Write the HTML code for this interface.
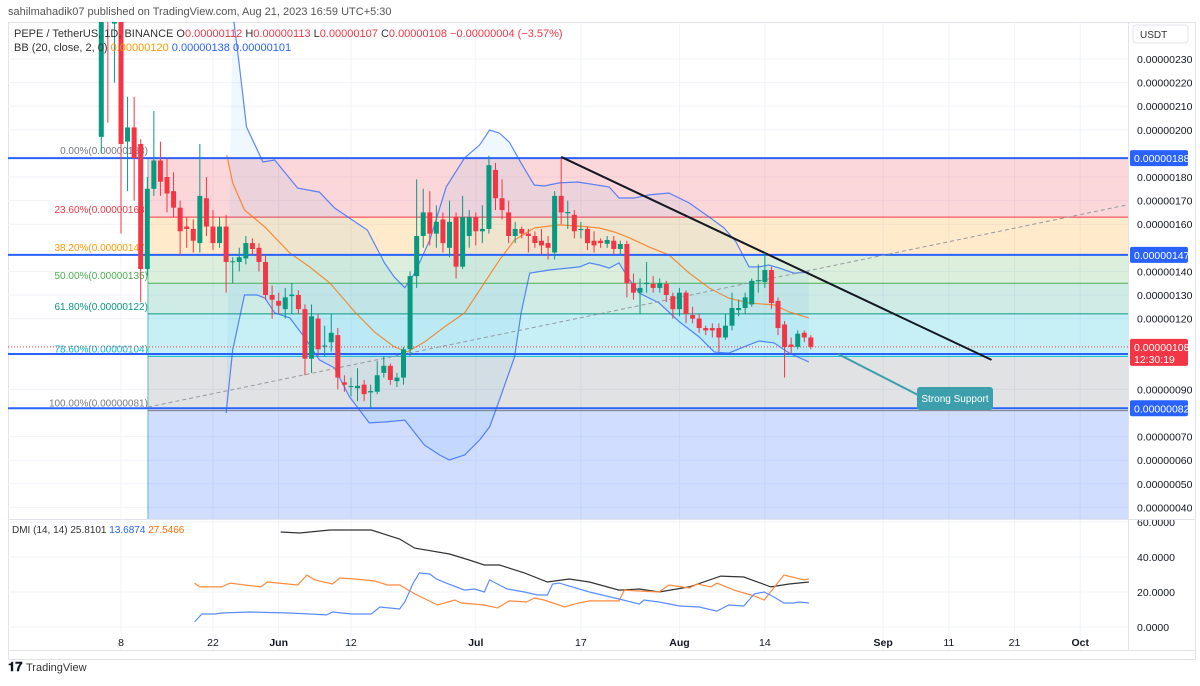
<!DOCTYPE html>
<html><head><meta charset="utf-8"><style>
body{margin:0;background:#fff;font-family:"Liberation Sans",sans-serif;}
svg text{font-family:"Liberation Sans",sans-serif;}
</style></head><body>
<svg id="c" width="1200" height="681" xmlns="http://www.w3.org/2000/svg">
<defs>
<clipPath id="mainClip"><rect x="8" y="22" width="1120" height="497"/></clipPath>
<clipPath id="dmiClip"><rect x="8" y="520" width="1120" height="130"/></clipPath>
</defs>
<text x="8" y="15" font-size="11" fill="#555">sahilmahadik07 published on TradingView.com, Aug 21, 2023 16:59 UTC+5:30</text>
<rect x="8.5" y="22.5" width="1187" height="637" fill="none" stroke="#e0e3eb"/>
<g id="grid"></g>
<g id="fib" clip-path="url(#mainClip)"></g>
<g id="bb" clip-path="url(#mainClip)"></g>
<g id="lines" clip-path="url(#mainClip)"></g>
<g id="candles" clip-path="url(#mainClip)"></g>
<g id="dmi" clip-path="url(#dmiClip)"></g>
<g id="axes"></g>
<line x1="8" y1="519.5" x2="1196" y2="519.5" stroke="#e0e3eb"/>
<line x1="1128.5" y1="22" x2="1128.5" y2="650" stroke="#e0e3eb"/>
<line x1="8" y1="650.5" x2="1196" y2="650.5" stroke="#e0e3eb"/>
<text x="14" y="37" font-size="11"><tspan fill="#333">PEPE / TetherUS, 1D, BINANCE  O</tspan><tspan fill="#f23645">0.00000112  </tspan><tspan fill="#333">H</tspan><tspan fill="#f23645">0.00000113  </tspan><tspan fill="#333">L</tspan><tspan fill="#f23645">0.00000107  </tspan><tspan fill="#333">C</tspan><tspan fill="#f23645">0.00000108  −0.00000004 (−3.57%)</tspan></text>
<text x="14" y="51" font-size="11"><tspan fill="#333">BB (20, close, 2, 0)  </tspan><tspan fill="#ff9800">0.00000120  </tspan><tspan fill="#2962ff">0.00000138  0.00000101</tspan></text>
<text x="12" y="533" font-size="10"><tspan fill="#333">DMI (14, 14)  25.8101  </tspan><tspan fill="#2962ff">13.6874  </tspan><tspan fill="#ff6d00">27.5466</tspan></text>
<rect x="1133" y="25" width="55" height="18" rx="3" fill="#fff" stroke="#e0e3eb"/>
<text x="1140" y="38" font-size="10" fill="#333">USDT</text>
<g><text x="8" y="671" font-size="13" font-weight="bold" fill="#131722">𝟏𝟕</text><text x="26" y="671" font-size="11" fill="#333">TradingView</text></g>
</svg>
<script>
const NS="http://www.w3.org/2000/svg";
// ---- data ----
const opens=[197,262,245,262,195,201,194,141,175,187,180,174,167,159,158,152,171,159,152,159,144,144,145.5,152,150,144,130,127.5,124,129.5,130,124,103,120,108.2,110,113,93,91,90.5,92,88.7,89,97,100,93.5,95,107,138,155,165,156,162,150,163,142,155,163,157,158,183,171,165,155,158,156,155,153,152,148,172,164.6,164,157.5,158,153,153,151.7,153,149.5,151.6,135,131,134.6,134.7,133,134.7,129.5,124,131,121.5,120,116,116,116,112,117,123.6,124.5,126,135.8,135.5,140.6,127.5,117.5,109,108,114,112];
const highs=[275,268,275,270,214,214,196,180,208,195,188,182,170,163,162,194,180,166,163,164,146,150,155,154,152,147,134,131,133,135,132,126,126,122,117,122,116,96,95,99,94,92,102,104,101,97,108,140,179,175,174,168,165,170,165,172,166,165,168,189,186,179,170,161,159,158,157,158,155,174,188,170,166,161,159,157,154,155,155,153,153,139,137,144,138,137,136,131,133,132,125,122,117,118,118,122,131,128,131,137,143,148,142,129,119,112,115,115,113];
const lows=[190,203,220,156,174,170,127,138,172,172,165,163,147,150,148,148,155,149,150,131,135,140,143,147,140,128,120,122,120,122,122,96,97,104,104,106,90,89,87,85,85,82,88,95,92,91,92,104,133,150,151,150,148,146,137,141,150,151,152,156,166,162,152,152,154,148,150,147,145,145,160,158,154,154,149,148,150,150,147,147,129,128,122,131,131,131,127,120,121,118,118,114,113,112,106,111,115,121,122,125,131,133,124,113,95,105,107,110,107];
const closes=[262,255,250,194,201,188,141,175,187,178,173,167,157,158,153,172,159,152,159,144,144.3,146,152,149.5,144,130,128,125.5,129,130.2,124,103,121,107,108.6,114,95,92,91.4,91.5,88,89.3,96,100,94,95,107,138,155,165,156,161,152,161,142,163,163,157,158,185,171,166,155,158,156,155,152,151,150,172,165,165.2,157,158,152,151,152,153.3,149.5,151.6,135,131,133,135.2,133,135,130,124,131,122,120,116,115,115,112,117,124.5,124.5,129,136,136.3,140.6,126.6,116,108,108,113.6,112,108];
const firstDay=-3; // days relative to May 8
const bbUpperDay=[17,18.1,19.1,21.6,23.4,26.9,30.2,32.5,34.8,37.5,40.1,41.6,43.2,44.7,47,49.5,52.3,54.6,56.1,57.6,59.1,60.9,62.9,64.4,66.7,69.5,74.3,75.8,78.1,80.4,83.4,86.5,89.5,91.8,93.6,95.6,97.1,98.6,100.2,102.4,104.7];
const bbUpperVal=[250,225.3,201.2,186.4,187.2,175.3,173.6,166.9,162.6,157.5,143.6,137.6,133.1,139.3,153.3,175.8,188.1,193.6,199.9,198.6,194.8,185.9,176.6,176.2,177.5,177.9,175.8,171.1,171.1,172.4,173.2,169,163.1,158.4,152.5,141.9,141.9,142.7,141.4,139.3,139.7];
const bbMidDay=[16.1,17,18.8,21.9,25.7,28.7,31.8,35.6,38.6,41.6,43.6,46.2,49.2,52.3,55.3,57.6,59.9,62.9,66.7,69.8,72.8,75.1,77.4,80.4,83.4,86.5,89.5,92.5,95.6,99.4,101.7,104.7];
const bbMidVal=[189.3,177.5,166,158.8,147.8,141.9,135.1,122.8,114.3,108,105.9,110.1,116.4,122.4,135.1,144.8,153.3,158.4,159.7,159.2,158.4,156.7,154.2,150.3,147,139.3,133,128.7,126.6,125.8,122.8,120.3];
const bbLowerDay=[16,17,18.8,20.7,21.9,23.4,25.7,28,30.2,32.5,34.8,37.8,40.1,43.2,46.2,48.5,50,52.3,54.6,56.1,57.6,59.9,60.9,62.2,65.2,69.8,71.3,72.8,74.3,75.8,77.4,78.9,81.9,85,88,90.3,92.5,94.8,97.1,99.4,101.7,104.7];
const bbLowerVal=[80,106.7,130,130,128.7,122.4,120.3,111.8,102.5,99.1,86.8,75.8,76.2,77,66.4,62.2,60.1,62.2,68.6,74.1,85.5,103.7,122.4,139.3,140.6,141.9,143.6,142.7,141.4,143.6,136.4,130.8,126.6,118.6,112.2,105.8,105.4,108,110.5,109.7,105.4,101.6];
const adxDay=[24.3,27.2,31.8,38.1,42.4,44.7,50,53,55.3,57.6,61.4,64.9,68.2,71.3,75.8,78.9,81.9,86.5,91.3,94.8,98.9,101.7,104.7];
const adxVal=[54.3,53.7,55.4,55.4,50.3,45.1,41.7,38.3,35.4,35.4,30.9,25.7,27.4,25.7,21.1,21.7,20,22.9,29.1,28.6,22.9,24.6,25.7];
const diMinusDay=[11.2,12,15.3,16.6,21.3,22.3,26.9,28.3,29.5,32.2,33.3,35.6,38.6,40.6,42.4,44.7,48.2,50.8,51.8,53.8,55.3,57.3,59.1,61.7,62.9,64.4,67.5,69,71.3,75.8,76.6,78.9,81.9,83.4,86.5,87.7,89.8,90.7,93.3,96.4,97.9,100.9,104,104.7];
const diMinusVal=[25.1,22.9,22.9,25.1,22.9,25.7,24,29.7,26.9,24.6,28,27.4,26.3,24,24,18.9,12.6,15.4,13.7,13.1,12.6,10.9,14.9,14.3,16.6,15.4,11.4,13.1,14.9,14.9,21.1,20.6,20,24,22.3,24.6,22.9,25.1,21.1,17.7,15.4,29.7,26.9,27.4];
const diPlusDay=[11.2,12.3,14.3,15.3,19.6,25.7,31.3,32.2,35.1,38.1,39.4,42.4,43.2,44.4,45.4,47,48,49.5,52.3,53.8,55.3,56.1,57.6,58.8,61.4,63.4,64.9,65.7,66.7,71.3,75.8,78.9,79.6,81.9,85,88,90.7,92.5,94.8,96.4,97.9,99.4,100.9,102.4,103.2,104.7];
const diPlusVal=[2.9,7.4,7.4,8,8.6,8,6.9,8.6,7.4,7.4,11.4,10.3,14.3,24.6,30.9,30.3,27.4,25.1,21.1,21.7,20,26.9,24,21.7,20,18.3,18.3,24.6,25.1,20,16,13.1,15.4,14.3,12,11.4,9.1,12.6,12,18.9,20,17.1,13.7,13.7,14.3,13.7];
const priceTicks=[230,220,210,200,180,170,160,140,130,120,90,70,60,50,40];
const dmiTicks=[60,40,20,0];
const dateLabels=["8","22","Jun","12","Jul","17","Aug","14","Sep","11","21","Oct"];
const dateDays=[0,14,24,35,54,70,85,98,116,126,136,146];
const fibPct=["0.00%","23.60%","38.20%","50.00%","61.80%","78.60%","100.00%"];
const fibVal=[188,163,147,135,122,104,81];
const fibColors=["#787b86","#f23645","#ff9800","#4caf50","#089981","#00bcd4","#787b86"];
const fibFills=["rgba(242,54,69,0.2)","rgba(255,152,0,0.2)","rgba(76,175,80,0.2)","rgba(8,153,129,0.2)","rgba(0,188,212,0.22)","rgba(120,123,134,0.22)","rgba(41,98,255,0.22)"];
const levelVals=[188,147,105,82];
const trendDay=[67,132.5], trendVal=[188.5,102.5];
const dashDay=[4.1,153], dashVal=[82.5,168.1];
const lastClose=108;
// ---- scales ----
const X=d=>121+6.57*d;
const Y=p=>59+(230-p)*2.36;
const DY=v=>627-v*1.75;
function mk(parent,tag,attrs){const e=document.createElementNS(NS,tag);for(const k in attrs)e.setAttribute(k,attrs[k]);document.getElementById(parent).appendChild(e);return e;}
function fmt(p){return "0.00000"+String(Math.round(p)).padStart(3,"0");}
// grid
dateDays.forEach((d,i)=>{const e=mk("grid","line",{x1:X(d),x2:X(d),y1:22,y2:650,stroke:"#f0f3fa"});

});
priceTicks.forEach(p=>{const e=mk("grid","line",{x1:8,x2:1128,y1:Y(p),y2:Y(p),stroke:"#f0f3fa"});

});
dmiTicks.forEach(v=>{const e=mk("grid","line",{x1:8,x2:1128,y1:DY(v),y2:DY(v),stroke:"#f0f3fa"});

});
// fib fills
const fx0=X(4.1);
for(let i=0;i<fibVal.length;i++){
 const top=Y(fibVal[i]); const bot=i<fibVal.length-1?Y(fibVal[i+1]):519;
 const r=mk("fib","rect",{x:fx0,y:top,width:1128-fx0,height:bot-top,fill:fibFills[i]});
 
 
 const l=mk("fib","line",{x1:fx0,x2:1128,y1:Y(fibVal[i]),y2:Y(fibVal[i]),stroke:fibColors[i],"stroke-width":1});
 
 
 const t=mk("fib","text",{x:fx0,y:Y(fibVal[i])-4,"font-size":10,fill:fibColors[i],"text-anchor":"end"});
 t.textContent=fibPct[i]+"("+fmt(fibVal[i])+")";
 
 
}
const fv=mk("fib","line",{x1:fx0,x2:fx0,y1:Y(188),y2:519,stroke:"#089981","stroke-width":1,opacity:0.6});


// horizontal levels
levelVals.forEach(p=>{const e=mk("lines","line",{x1:8,x2:1128,y1:Y(p),y2:Y(p),stroke:"#2962ff","stroke-width":2});

});
// current price dotted
const cp=mk("lines","line",{x1:8,x2:1128,y1:Y(lastClose),y2:Y(lastClose),stroke:"#f23645","stroke-dasharray":"1 2","stroke-width":1});


// BB
function pts(ds,vs,f){return ds.map((d,i)=>X(d).toFixed(1)+","+f(vs[i]).toFixed(1)).join(" ");}
let poly=bbUpperDay.map((d,i)=>X(d).toFixed(1)+","+Y(bbUpperVal[i]).toFixed(1));
for(let i=bbLowerDay.length-1;i>=0;i--)poly.push(X(bbLowerDay[i]).toFixed(1)+","+Y(bbLowerVal[i]).toFixed(1));
const bf=mk("bb","polygon",{points:poly.join(" "),fill:"rgba(33,150,243,0.07)"});


const bu=mk("bb","polyline",{points:pts(bbUpperDay,bbUpperVal,Y),fill:"none",stroke:"#2962ff","stroke-width":1.2,opacity:0.75});


const bl=mk("bb","polyline",{points:pts(bbLowerDay,bbLowerVal,Y),fill:"none",stroke:"#2962ff","stroke-width":1.2,opacity:0.75});


const bm=mk("bb","polyline",{points:pts(bbMidDay,bbMidVal,Y),fill:"none",stroke:"#ff6d00","stroke-width":1.2,opacity:0.75});


// trendlines
const dl=mk("lines","line",{x1:X(dashDay[0]),y1:Y(dashVal[0]),x2:X(dashDay[1]),y2:Y(dashVal[1]),stroke:"#9598a1","stroke-dasharray":"4 3","stroke-width":1});


const tl=mk("lines","line",{x1:X(trendDay[0]),y1:Y(trendVal[0]),x2:X(trendDay[1]),y2:Y(trendVal[1]),stroke:"#131722","stroke-width":2});


// callout
const ar=mk("lines","line",{x1:838,y1:354,x2:920,y2:396,stroke:"#3aa0ad","stroke-width":2});


const cb=mk("lines","rect",{x:917,y:387,width:76,height:23,rx:3,fill:"#3d9fac"});


const ct=mk("lines","text",{x:955,y:402,"font-size":10,fill:"#fff","text-anchor":"middle"});
ct.textContent="Strong Support";


// candles
for(let i=0;i<opens.length;i++){
 const d=firstDay+i, x=X(d), up=closes[i]>=opens[i], col=up?"#089981":"#f23645";
 const w=mk("candles","line",{x1:x,x2:x,y1:Y(highs[i]),y2:Y(lows[i]),stroke:col,"stroke-width":1});
 
 
 const t=Y(Math.max(opens[i],closes[i])), b=Y(Math.min(opens[i],closes[i]));
 const r=mk("candles","rect",{x:x-2.5,y:t,width:5,height:Math.max(1,b-t),fill:col});
 
 
}
// DMI
const dA=mk("dmi","polyline",{points:pts(adxDay,adxVal,DY),fill:"none",stroke:"#333","stroke-width":1.2});


const dM=mk("dmi","polyline",{points:pts(diMinusDay,diMinusVal,DY),fill:"none",stroke:"#ff8a3d","stroke-width":1.2});


const dP=mk("dmi","polyline",{points:pts(diPlusDay,diPlusVal,DY),fill:"none",stroke:"#5b8cff","stroke-width":1.2});


// axes labels
priceTicks.forEach(p=>{const t=mk("axes","text",{x:1137,y:Y(p)+4,"font-size":10.5,fill:"#131722"});t.textContent=fmt(p);

});
dmiTicks.forEach(v=>{const t=mk("axes","text",{x:1137,y:DY(v)+4,"font-size":10.5,fill:"#131722"});t.textContent=v.toFixed(4);

});
dateLabels.forEach((s,i)=>{const bold=isNaN(+s);const t=mk("axes","text",{x:X(dateDays[i]),y:646,"font-size":10.5,fill:"#131722","text-anchor":"middle","font-weight":bold?"bold":"normal"});t.textContent=s;

});
// badges
levelVals.forEach(p=>{const r=mk("axes","rect",{x:1130,y:Y(p)-8,width:58,height:16,rx:2,fill:"#2962ff"});


const t=mk("axes","text",{x:1134,y:Y(p)+4,"font-size":10.5,fill:"#fff"});t.textContent=fmt(p);

});
const lb=mk("axes","rect",{x:1130,y:Y(lastClose)-8,width:58,height:27,rx:2,fill:"#f23645"});


const lt=mk("axes","text",{x:1134,y:Y(lastClose)+4,"font-size":10.5,fill:"#fff"});lt.textContent=fmt(lastClose);


const cd=mk("axes","text",{x:1134,y:Y(lastClose)+16,"font-size":10.5,fill:"#fff"});cd.textContent="12:30:19";


</script>
</body></html>
